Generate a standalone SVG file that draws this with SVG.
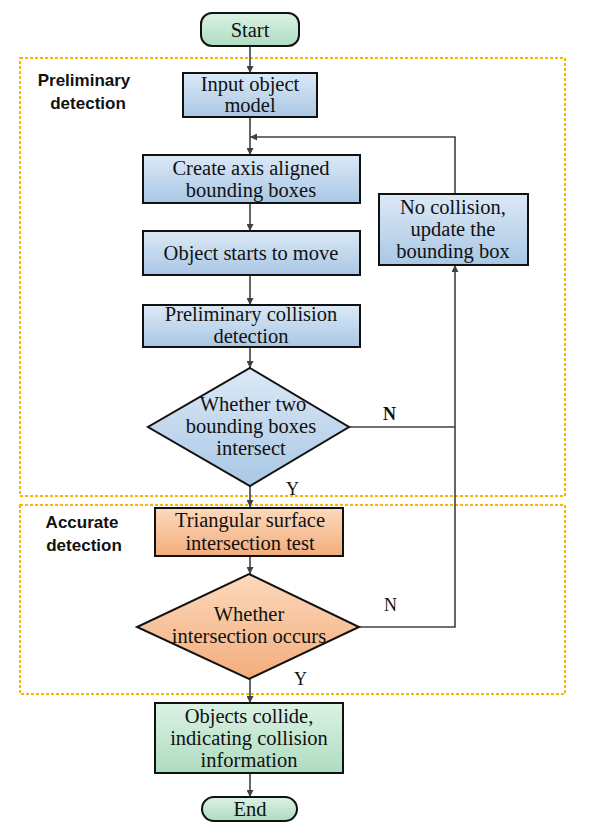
<svg xmlns="http://www.w3.org/2000/svg" width="597" height="839" viewBox="0 0 597 839">
<defs>
<linearGradient id="gBlue" x1="0" y1="0" x2="0" y2="1"><stop offset="0" stop-color="#dce9f6"/><stop offset="1" stop-color="#a9c7e5"/></linearGradient>
<linearGradient id="gOrange" x1="0" y1="0" x2="0" y2="1"><stop offset="0" stop-color="#fcd9bc"/><stop offset="1" stop-color="#f3ad7c"/></linearGradient>
<linearGradient id="gGreen" x1="0" y1="0" x2="0" y2="1"><stop offset="0" stop-color="#dcf2e4"/><stop offset="1" stop-color="#addcc0"/></linearGradient>
<marker id="arr" viewBox="0 0 10 10" refX="10" refY="5" markerWidth="7" markerHeight="7" orient="auto" markerUnits="userSpaceOnUse"><path d="M0,0 L10,5 L0,10 z" fill="#404040"/></marker>
<style>
.box{stroke:#111;stroke-width:2}
.t{font-family:"Liberation Serif","Times New Roman",serif;font-size:20.5px;fill:#111;text-anchor:middle}
.lab{font-family:"Liberation Serif","Times New Roman",serif;font-size:18px;fill:#111}
.grp{font-family:"Liberation Sans",Arial,sans-serif;font-size:17px;font-weight:bold;fill:#111;text-anchor:middle}
.dash{fill:none;stroke:#f5b800;stroke-width:2;stroke-dasharray:3,2}
.c{fill:none;stroke:#404040;stroke-width:1.6}
</style>
</defs>
<g id="regions">
<rect class="dash" x="20" y="58" width="545" height="438"/>
<rect class="dash" x="20" y="505" width="545" height="189"/>
<text class="grp" x="84" y="86">Preliminary</text>
<text class="grp" x="88" y="109">detection</text>
<text class="grp" x="82" y="528">Accurate</text>
<text class="grp" x="84" y="551">detection</text>
</g>
<g id="connectors">
<line class="c" x1="250" y1="47" x2="250" y2="73" marker-end="url(#arr)"/>
<line class="c" x1="250" y1="117" x2="250" y2="155" marker-end="url(#arr)"/>
<line class="c" x1="250" y1="203" x2="250" y2="231" marker-end="url(#arr)"/>
<line class="c" x1="250" y1="275" x2="250" y2="305" marker-end="url(#arr)"/>
<line class="c" x1="250" y1="347" x2="250" y2="368" marker-end="url(#arr)"/>
<line class="c" x1="250" y1="486" x2="250" y2="507" marker-end="url(#arr)"/>
<line class="c" x1="250" y1="556" x2="250" y2="574" marker-end="url(#arr)"/>
<line class="c" x1="250" y1="679" x2="250" y2="703" marker-end="url(#arr)"/>
<line class="c" x1="250" y1="773" x2="250" y2="797" marker-end="url(#arr)"/>
<polyline class="c" points="349,427 455,427"/>
<polyline class="c" points="359,627 455,627 455,265" marker-end="url(#arr)"/>
<polyline class="c" points="455,194 455,137 250,137" marker-end="url(#arr)"/>
<text class="lab" x="383" y="420" font-weight="bold">N</text>
<text class="lab" x="384" y="611">N</text>
<text class="lab" x="286" y="495">Y</text>
<text class="lab" x="294" y="685">Y</text>
</g>
<g id="start">
<rect class="box" x="201" y="13" width="98" height="33" rx="11" fill="url(#gGreen)"/>
<text class="t" x="250" y="37">Start</text>
</g>
<g id="input">
<rect class="box" x="183" y="73" width="134" height="44" fill="url(#gBlue)"/>
<text class="t" x="250" y="91">Input object</text>
<text class="t" x="250" y="112">model</text>
</g>
<g id="aabb">
<rect class="box" x="143" y="155" width="217" height="48" fill="url(#gBlue)"/>
<text class="t" x="251" y="175">Create axis aligned</text>
<text class="t" x="251" y="197">bounding boxes</text>
</g>
<g id="move">
<rect class="box" x="143" y="231" width="217" height="44" fill="url(#gBlue)"/>
<text class="t" x="251" y="260">Object starts to move</text>
</g>
<g id="prelim">
<rect class="box" x="143" y="305" width="217" height="42" fill="url(#gBlue)"/>
<text class="t" x="251" y="321">Preliminary collision</text>
<text class="t" x="251" y="343">detection</text>
</g>
<g id="decision1">
<polygon class="box" points="250,368 349,427 250,486 148,427" fill="url(#gBlue)"/>
<text class="t" x="253" y="411">Whether two</text>
<text class="t" x="251" y="433">bounding boxes</text>
<text class="t" x="251" y="455">intersect</text>
</g>
<g id="update">
<rect class="box" x="379" y="194" width="149" height="71" fill="url(#gBlue)"/>
<text class="t" x="453" y="214">No collision,</text>
<text class="t" x="453" y="236">update the</text>
<text class="t" x="453" y="258">bounding box</text>
</g>
<g id="triangle">
<rect class="box" x="155" y="508" width="188" height="48" fill="url(#gOrange)"/>
<text class="t" x="250" y="527">Triangular surface</text>
<text class="t" x="250" y="550">intersection test</text>
</g>
<g id="decision2">
<polygon class="box" points="249,574 359,627 249,679 137,627" fill="url(#gOrange)"/>
<text class="t" x="249" y="621">Whether</text>
<text class="t" x="249" y="643">intersection occurs</text>
</g>
<g id="collide">
<rect class="box" x="155" y="703" width="188" height="70" fill="url(#gGreen)"/>
<text class="t" x="249" y="723">Objects collide,</text>
<text class="t" x="249" y="745">indicating collision</text>
<text class="t" x="249" y="767">information</text>
</g>
<g id="end">
<rect class="box" x="202" y="797" width="95" height="24" rx="12" fill="url(#gGreen)"/>
<text class="t" x="250" y="816">End</text>
</g>
</svg>
